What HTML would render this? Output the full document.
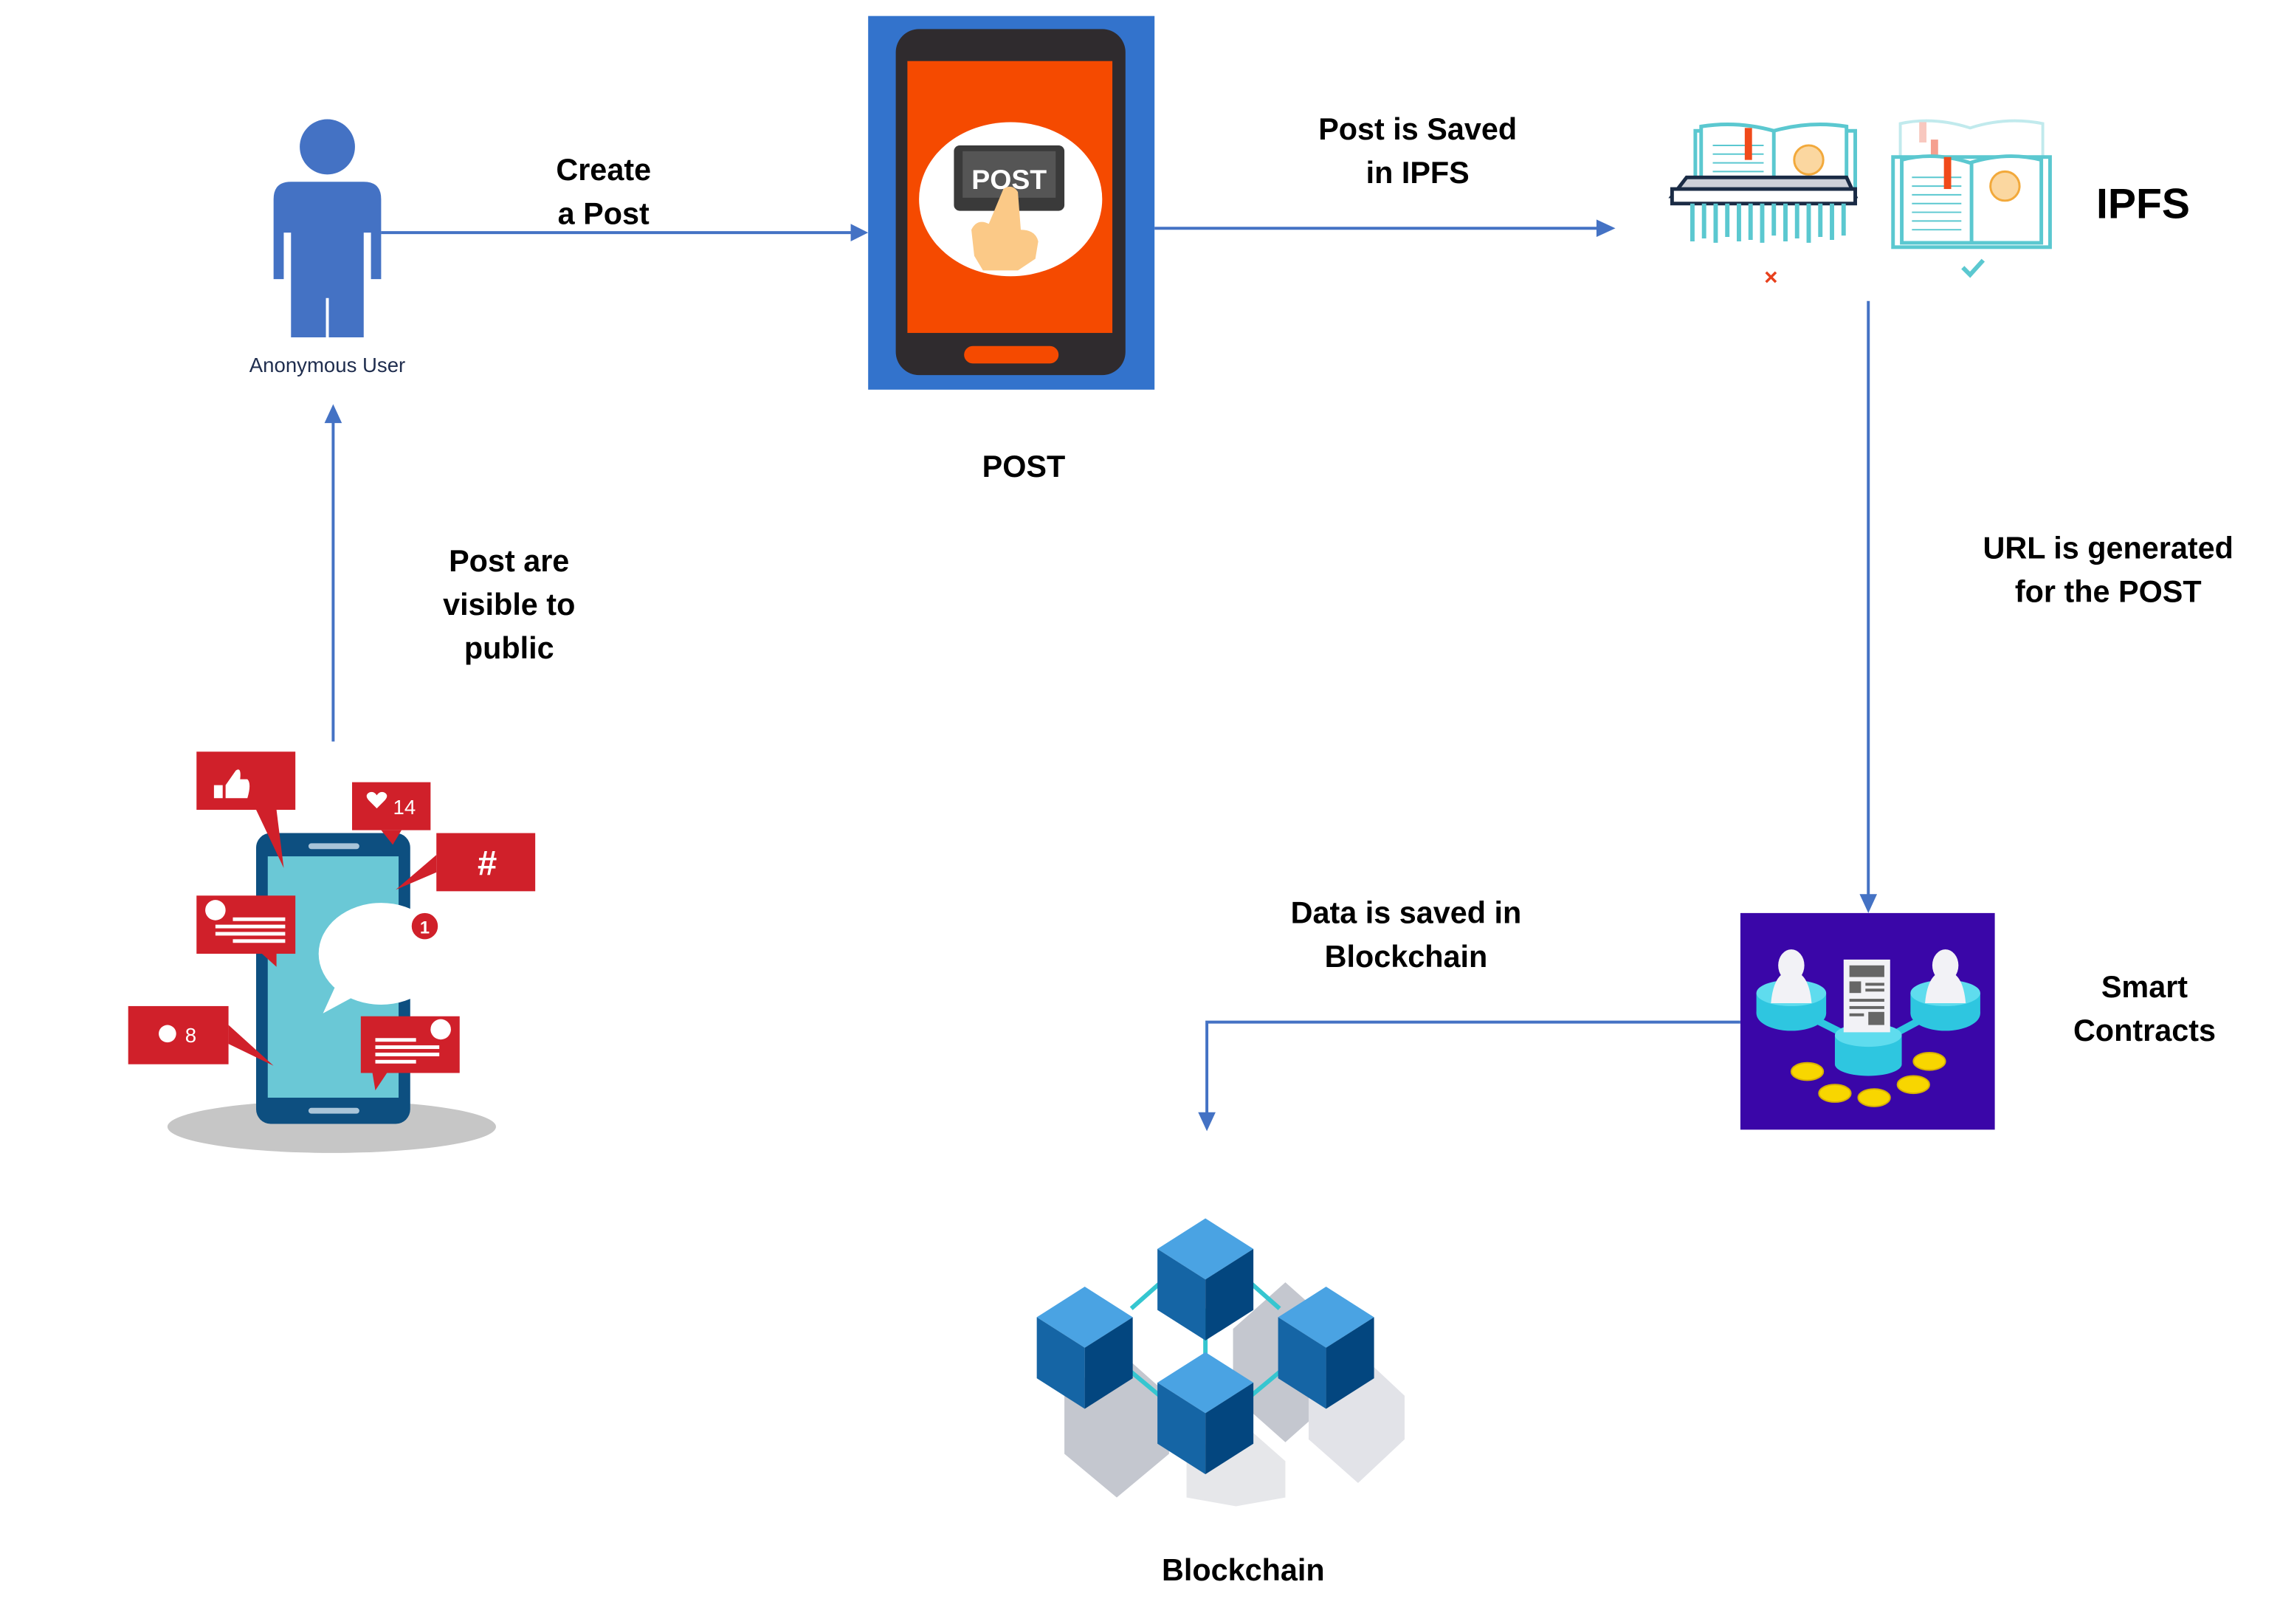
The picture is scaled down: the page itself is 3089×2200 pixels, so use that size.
<!DOCTYPE html>
<html><head><meta charset="utf-8"><style>
html,body{margin:0;padding:0;background:#fff;}
svg{display:block;}
text{font-family:"Liberation Sans",sans-serif;font-weight:bold;fill:#000;}
</style></head><body>
<svg width="3089" height="2200" viewBox="0 0 1568 1117" xmlns="http://www.w3.org/2000/svg">
<rect width="1568" height="1117" fill="#fff"/>
<!-- Person -->
<g fill="#4472c4">
<circle cx="225" cy="101" r="19"/>
<path d="M188,137 Q188,125 200,125 L250,125 Q262,125 262,137 L262,192 L255,192 L255,160 L250,160 L250,232 L200,232 L200,160 L195,160 L195,192 L188,192 Z"/>
</g>
<rect x="224" y="205" width="2" height="28" fill="#fff"/>
<text x="225" y="256" font-size="14" text-anchor="middle" style="fill:#1f2d4e;font-weight:normal">Anonymous User</text>
<!-- Arrow 1 -->
<line x1="262" y1="160" x2="587" y2="160" stroke="#4472c4" stroke-width="2"/>
<polygon points="585,154 597,160 585,166" fill="#4472c4"/>
<text x="415" y="124" font-size="21" text-anchor="middle">Create</text>
<text x="415" y="154" font-size="21" text-anchor="middle">a Post</text>
<!-- POST phone -->
<rect x="597" y="11" width="197" height="257" fill="#3373cc"/>
<rect x="616" y="20" width="158" height="238" rx="16" fill="#2f2b2e"/>
<rect x="624" y="42" width="141" height="187" fill="#f54a00"/>
<ellipse cx="695" cy="137" rx="63" ry="53" fill="#fff"/>
<rect x="656" y="100" width="76" height="45" rx="4" fill="#3a3a3a"/>
<rect x="662" y="104" width="64" height="32" fill="#555"/>
<text x="694" y="130" font-size="19" text-anchor="middle" style="fill:#fff">POST</text>
<path d="M690,130 Q696,126 700,132 L702,158 Q712,158 714,166 L712,178 L700,186 L676,186 L670,176 L668,158 Q672,150 680,154 Z" fill="#fbc987"/>
<rect x="663" y="238" width="65" height="12" rx="6" fill="#f54a00"/>
<text x="704" y="328" font-size="21" text-anchor="middle">POST</text>
<!-- Arrow 2 -->
<line x1="794" y1="157" x2="1100" y2="157" stroke="#4472c4" stroke-width="2"/>
<polygon points="1098,151 1111,157 1098,163" fill="#4472c4"/>
<text x="975" y="96" font-size="21" text-anchor="middle">Post is Saved</text>
<text x="975" y="126" font-size="21" text-anchor="middle">in IPFS</text>
<!-- IPFS shredder -->
<g stroke="#5bc8d0" stroke-width="2.5" fill="#fff">
<rect x="1166" y="90" width="110" height="42"/>
<path d="M1170,87 Q1195,83 1220,90 Q1245,83 1270,87 L1270,132 L1170,132 Z"/>
<line x1="1220" y1="90" x2="1220" y2="132"/>
</g>
<g stroke="#5bc8d0" stroke-width="1" fill="none">
<path d="M1178,100 h35 M1178,106 h35 M1178,112 h35 M1178,118 h35 M1178,124 h35"/>
</g>
<rect x="1200" y="88" width="5" height="22" fill="#f04a1a"/>
<circle cx="1244" cy="110" r="10" fill="#fbd7a0" stroke="#f2a93b" stroke-width="1.5"/>
<path d="M1160,122 L1270,122 L1276,135 L1150,135 Z" fill="#cdd0d8" stroke="#1a2b45" stroke-width="2.5"/>
<rect x="1150" y="130" width="126" height="10" fill="#fff" stroke="#1a2b45" stroke-width="2.5"/>
<g stroke="#5bc8d0" stroke-width="3">
<path d="M1164,140 v26 M1172,140 v24 M1180,140 v27 M1188,140 v23 M1196,140 v26 M1204,140 v25 M1212,140 v27 M1220,140 v22 M1228,140 v26 M1236,140 v24 M1244,140 v27 M1252,140 v23 M1260,140 v25 M1268,140 v22"/>
</g>
<text x="1218" y="196" font-size="16" text-anchor="middle" style="fill:#e8401c">×</text>
<!-- IPFS good book -->
<g stroke="#a8e2e6" stroke-width="2" fill="#fff" opacity="0.7">
<path d="M1307,85 Q1330,80 1355,88 Q1380,80 1405,85 L1405,120 L1307,120 Z"/>
</g>
<rect x="1320" y="84" width="5" height="14" fill="#f8c8bf"/>
<rect x="1328" y="96" width="5" height="14" fill="#f5a08f"/>
<g stroke="#5bc8d0" stroke-width="2.5" fill="#fff">
<rect x="1302" y="108" width="108" height="62"/>
<path d="M1308,110 Q1330,104 1355,112 Q1380,104 1404,110 L1404,167 L1308,167 Z"/>
<line x1="1356" y1="112" x2="1356" y2="167"/>
</g>
<g stroke="#5bc8d0" stroke-width="1" fill="none">
<path d="M1315,122 h34 M1315,128 h34 M1315,134 h34 M1315,140 h34 M1315,146 h34 M1315,152 h34 M1315,158 h34"/>
</g>
<rect x="1337" y="108" width="5" height="22" fill="#f04a1a"/>
<circle cx="1379" cy="128" r="10" fill="#fbd7a0" stroke="#f2a93b" stroke-width="1.5"/>
<path d="M1350,184 l5,5 l9,-10" stroke="#5bc8d0" stroke-width="3" fill="none"/>
<text x="1474" y="150" font-size="29" text-anchor="middle">IPFS</text>
<!-- Vertical arrow -->
<line x1="1285" y1="207" x2="1285" y2="617" stroke="#4472c4" stroke-width="2"/>
<polygon points="1279,615 1285,628 1291,615" fill="#4472c4"/>
<text x="1450" y="384" font-size="21" text-anchor="middle">URL is generated</text>
<text x="1450" y="414" font-size="21" text-anchor="middle">for the POST</text>
<!-- Smart contracts -->
<rect x="1197" y="628" width="175" height="149" fill="#3a06a8"/>
<g fill="#2ec6e0">
<ellipse cx="1232" cy="697" rx="24" ry="12"/><rect x="1208" y="683" width="48" height="14"/>
<ellipse cx="1338" cy="697" rx="24" ry="12"/><rect x="1314" y="683" width="48" height="14"/>
<line x1="1250" y1="702" x2="1280" y2="717" stroke="#2ec6e0" stroke-width="5"/>
<line x1="1320" y1="702" x2="1292" y2="717" stroke="#2ec6e0" stroke-width="5"/>
<rect x="1262" y="712" width="46" height="20"/><ellipse cx="1285" cy="732" rx="23" ry="8"/>
</g>
<ellipse cx="1285" cy="712" rx="23" ry="8" fill="#5fdcee"/>
<ellipse cx="1232" cy="683" rx="24" ry="9" fill="#5fdcee"/>
<ellipse cx="1338" cy="683" rx="24" ry="9" fill="#5fdcee"/>
<g fill="#f2f2f6">
<ellipse cx="1232" cy="664" rx="9" ry="11"/><path d="M1218,690 Q1220,668 1232,668 Q1244,668 1246,690 Z"/>
<ellipse cx="1338" cy="664" rx="9" ry="11"/><path d="M1324,690 Q1326,668 1338,668 Q1350,668 1352,690 Z"/>
<rect x="1268" y="660" width="32" height="50"/>
</g>
<g fill="#666"><rect x="1272" y="664" width="24" height="8"/><rect x="1272" y="675" width="8" height="8"/><rect x="1283" y="676" width="13" height="2"/><rect x="1283" y="680" width="13" height="2"/><rect x="1272" y="687" width="24" height="2"/><rect x="1272" y="692" width="24" height="2"/><rect x="1272" y="697" width="10" height="2"/><rect x="1285" y="696" width="11" height="9"/></g>
<g fill="#f8d600" stroke="#d8b000" stroke-width="1">
<ellipse cx="1243" cy="737" rx="11" ry="6"/><ellipse cx="1262" cy="752" rx="11" ry="6"/><ellipse cx="1289" cy="755" rx="11" ry="6"/><ellipse cx="1316" cy="746" rx="11" ry="6"/><ellipse cx="1327" cy="730" rx="11" ry="6"/>
</g>
<text x="1475" y="686" font-size="21" text-anchor="middle">Smart</text>
<text x="1475" y="716" font-size="21" text-anchor="middle">Contracts</text>
<!-- Connector to blockchain -->
<polyline points="1197,703 830,703 830,767" stroke="#4472c4" stroke-width="2" fill="none"/>
<polygon points="824,765 830,778 836,765" fill="#4472c4"/>
<text x="967" y="635" font-size="21" text-anchor="middle">Data is saved in</text>
<text x="967" y="665" font-size="21" text-anchor="middle">Blockchain</text>
<!-- Blockchain cubes -->
<g id="shadows">
<path d="M884,882 L920,914 L920,960 L884,992 L848,960 L848,914 Z" fill="#c4c7cf"/>
<path d="M768,928 L804,960 L804,1000 L768,1030 L732,1000 L732,960 Z" fill="#c4c7cf"/>
<path d="M934,930 L966,960 L966,990 L934,1020 L900,990 L900,960 Z" fill="#e2e3e8"/>
<path d="M850,975 L884,1005 L884,1030 L850,1036 L816,1030 L816,1005 Z" fill="#e6e7ea"/>
</g>
<g stroke="#35c6d0" stroke-width="3">
<line x1="778" y1="900" x2="812" y2="870"/><line x1="846" y1="870" x2="880" y2="900"/>
<line x1="764" y1="932" x2="800" y2="962"/><line x1="894" y1="932" x2="858" y2="962"/>
<line x1="829" y1="900" x2="829" y2="950"/>
</g>
<g>
<polygon points="829,838 862,859 829,880 796,859" fill="#4aa3e3"/><polygon points="796,859 829,880 829,922 796,901" fill="#1565a5"/><polygon points="862,859 829,880 829,922 862,901" fill="#03467f"/>
<polygon points="746,885 779,906 746,927 713,906" fill="#4aa3e3"/><polygon points="713,906 746,927 746,969 713,948" fill="#1565a5"/><polygon points="779,906 746,927 746,969 779,948" fill="#03467f"/>
<polygon points="912,885 945,906 912,927 879,906" fill="#4aa3e3"/><polygon points="879,906 912,927 912,969 879,948" fill="#1565a5"/><polygon points="945,906 912,927 912,969 945,948" fill="#03467f"/>
<polygon points="829,930 862,951 829,972 796,951" fill="#4aa3e3"/><polygon points="796,951 829,972 829,1014 796,993" fill="#1565a5"/><polygon points="862,951 829,972 829,1014 862,993" fill="#03467f"/>
</g>
<text x="855" y="1087" font-size="21" text-anchor="middle">Blockchain</text>
<!-- Social phone -->
<ellipse cx="228" cy="775" rx="113" ry="18" fill="#c6c6c6"/>
<rect x="176" y="573" width="106" height="200" rx="10" fill="#0d4f80"/>
<rect x="184" y="589" width="90" height="166" fill="#6ac8d6"/>
<rect x="212" y="580" width="35" height="4" rx="2" fill="#a9c4d8"/>
<rect x="212" y="762" width="35" height="4" rx="2" fill="#a9c4d8"/>
<ellipse cx="262" cy="656" rx="43" ry="35" fill="#fff"/>
<polygon points="232,675 246,684 222,697" fill="#fff"/>
<circle cx="292" cy="637" r="10" fill="#d0202a" stroke="#fff" stroke-width="2"/>
<text x="292" y="642" font-size="12" text-anchor="middle" style="fill:#fff">1</text>
<g fill="#d0202a">
<rect x="135" y="517" width="68" height="40"/><polygon points="176,557 190,557 195,597"/>
<rect x="242" y="538" width="54" height="33"/><polygon points="262,571 276,571 270,581"/>
<rect x="300" y="573" width="68" height="40"/><polygon points="300,588 300,600 272,612"/>
<rect x="135" y="616" width="68" height="40"/><polygon points="180,656 190,656 190,665"/>
<rect x="88" y="692" width="69" height="40"/><polygon points="157,705 157,718 188,733"/>
<rect x="248" y="699" width="68" height="39"/><polygon points="256,738 266,738 258,750"/>
</g>
<g fill="#fff">
<path d="M147,540 h6 v9 h-6 Z M155,540 L162,530 Q166,527 165,536 L170,536 Q173,539 170,549 L155,549 Z"/>
<path d="M254,551 Q250,547 254,545 Q257,544 259,547 Q261,544 264,545 Q268,547 264,551 L259,556 Z"/>
<text x="278" y="560" font-size="14" style="fill:#fff;font-weight:normal" text-anchor="middle">14</text>
<text x="335" y="602" font-size="24" style="fill:#fff" text-anchor="middle">#</text>
<circle cx="148" cy="626" r="7"/><rect x="160" y="631" width="36" height="2.5"/><rect x="148" y="636" width="48" height="2.5"/><rect x="148" y="641" width="48" height="2.5"/><rect x="160" y="646" width="36" height="2.5"/>
<circle cx="115" cy="711" r="6"/>
<text x="131" y="717" font-size="14" style="fill:#fff;font-weight:normal" text-anchor="middle">8</text>
<circle cx="303" cy="708" r="7"/><rect x="258" y="714" width="28" height="2.5"/><rect x="258" y="719" width="44" height="2.5"/><rect x="258" y="724" width="44" height="2.5"/><rect x="258" y="729" width="28" height="2.5"/>
</g>
<!-- Up arrow -->
<line x1="229" y1="510" x2="229" y2="289" stroke="#4472c4" stroke-width="2"/>
<polygon points="223,291 229,278 235,291" fill="#4472c4"/>
<text x="350" y="393" font-size="21" text-anchor="middle">Post are</text>
<text x="350" y="423" font-size="21" text-anchor="middle">visible to</text>
<text x="350" y="453" font-size="21" text-anchor="middle">public</text>
</svg>
</body></html>
